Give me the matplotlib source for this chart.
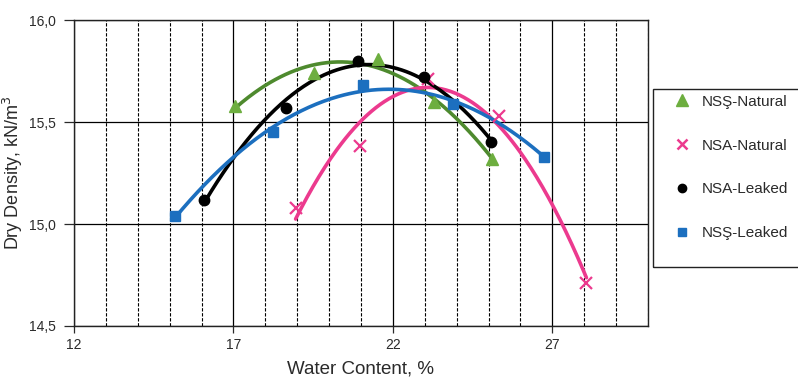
"""
Compaction curves: dry density vs water content for four soil samples,
markers with 2nd-order polynomial trend lines.
"""
import matplotlib
matplotlib.use('Agg')
import matplotlib.pyplot as plt
import matplotlib.ticker as mticker
from matplotlib.patches import Rectangle
from matplotlib.lines import Line2D
import numpy as np

plt.rcParams['font.family'] = ['Liberation Sans', 'DejaVu Sans']

GREEN_LINE = '#4E8A2E'
GREEN_MARK = '#6DAE3F'
PINK       = '#EC3A8E'
BLACK      = '#000000'
BLUE       = '#1C6FBF'
TEXT       = '#2A2A2A'

# measured points (water content %, dry density kN/m3)
nss_nat_w  = [17.06, 19.52, 21.53, 23.29, 25.11]
nss_nat_d  = [15.58, 15.74, 15.81, 15.60, 15.32]
nsa_nat_w  = [18.95, 20.96, 23.10, 25.33, 28.07]
nsa_nat_d  = [15.08, 15.38, 15.71, 15.53, 14.71]
nsa_lk_w   = [16.09, 18.64, 20.90, 22.97, 25.08]
nsa_lk_d   = [15.12, 15.57, 15.80, 15.72, 15.40]
nss_lk_w   = [15.18, 18.23, 21.06, 23.90, 26.75]
nss_lk_d   = [15.04, 15.45, 15.68, 15.59, 15.33]

labels = ['NSŞ-Natural', 'NSA-Natural', 'NSA-Leaked', 'NSŞ-Leaked']

fig = plt.figure(figsize=(7.98, 3.82), dpi=100)
ax = fig.add_axes([0.0927, 0.1466, 0.7193, 0.801])

series = [
    (nss_nat_w, nss_nat_d, GREEN_LINE, GREEN_MARK, '^', 9, 0),
    (nsa_nat_w, nsa_nat_d, PINK, PINK, 'x', 8, 1.6),
    (nsa_lk_w, nsa_lk_d, BLACK, BLACK, 'o', 7.5, 0),
    (nss_lk_w, nss_lk_d, BLUE, BLUE, 's', 7, 0),
]

for w, d, lc, mc, mk, ms, mew in series:
    w = np.asarray(w)
    d = np.asarray(d)
    # quadratic trend line over the measured range
    coef = np.polyfit(w, d, 2)
    ww = np.linspace(w.min(), w.max(), 200)
    ax.plot(ww, np.polyval(coef, ww), color=lc, lw=2.6, zorder=3,
            solid_capstyle='round')
    if mk == 'x':
        ax.plot(w, d, ls='none', marker=mk, ms=ms, mec=mc, mew=mew, zorder=4)
    else:
        ax.plot(w, d, ls='none', marker=mk, ms=ms, mfc=mc, mec=mc, zorder=4)

ax.set_xlim(12, 30)
ax.set_ylim(14.5, 16.0)
ax.xaxis.set_major_locator(mticker.FixedLocator([12, 17, 22, 27]))
ax.xaxis.set_minor_locator(mticker.MultipleLocator(1))
ax.yaxis.set_major_locator(mticker.MultipleLocator(0.5))
ax.yaxis.set_major_formatter(
    mticker.FuncFormatter(lambda v, _: f'{v:.1f}'.replace('.', ',')))

ax.grid(which='major', axis='both', color='black', lw=0.9, zorder=1)
ax.grid(which='minor', axis='x', color='black', lw=0.8, ls=(0, (3, 1.5)),
        zorder=1)
ax.set_axisbelow(True)

for s in ax.spines.values():
    s.set_color('#222222')
    s.set_linewidth(1.0)

ax.tick_params(axis='y', which='major', length=7, width=0.9,
               labelsize=10, colors=TEXT, pad=6)
ax.tick_params(axis='x', which='major', length=5, width=0.9,
               labelsize=10, colors=TEXT, pad=4)
ax.tick_params(axis='x', which='minor', length=0)

ax.set_xlabel('Water Content, %', fontsize=13.5, color=TEXT, labelpad=6)
ax.set_ylabel('Dry Density, kN/m$^3$', fontsize=13, color=TEXT, labelpad=3)

# legend box runs off the right edge of the figure
fig.patches.append(Rectangle((0.818, 0.301), 0.25, 0.466,
                             transform=fig.transFigure, fill=False,
                             ec='#222222', lw=1.0, clip_on=False))

handles = [
    Line2D([], [], ls='none', marker='^', ms=8, mfc=GREEN_MARK, mec=GREEN_MARK),
    Line2D([], [], ls='none', marker='x', ms=7, mec=PINK, mew=1.8),
    Line2D([], [], ls='none', marker='o', ms=6, mfc=BLACK, mec=BLACK),
    Line2D([], [], ls='none', marker='s', ms=6, mfc=BLUE, mec=BLUE),
]
fig.legend(handles, labels, loc='upper left', bbox_to_anchor=(0.832, 0.78),
           frameon=False, fontsize=11, labelspacing=1.95, handlelength=1.0,
           handletextpad=0.8, labelcolor=TEXT, borderpad=0.2)

fig.savefig('out.png', dpi=100, facecolor='white')
plt.close(fig)
